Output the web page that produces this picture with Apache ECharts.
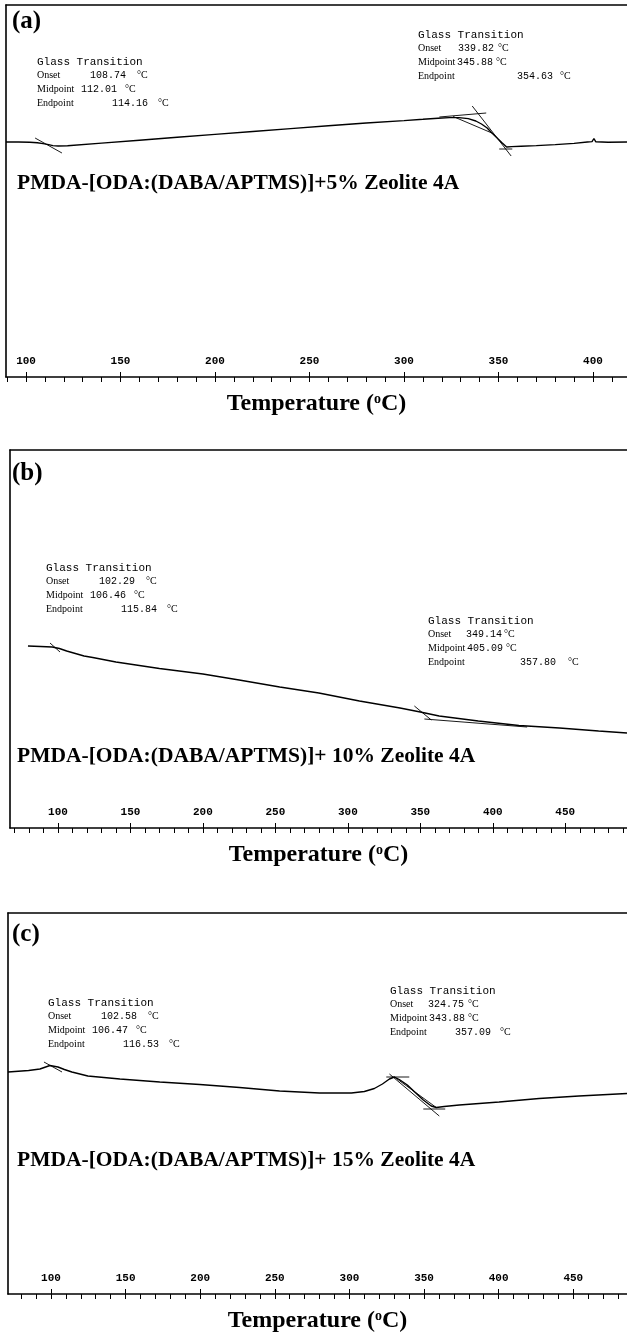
<!DOCTYPE html>
<html>
<head>
<meta charset="utf-8">
<title>DSC curves - PMDA-[ODA:(DABA/APTMS)] + Zeolite 4A</title>
<script src="https://cdn.jsdelivr.net/npm/echarts@6/dist/echarts.min.js"></script>
<style>
  html, body { margin: 0; padding: 0; background: #fff; }
  #dsc { width: 627px; height: 1335px; }
</style>
</head>
<body>
<div id="dsc"></div>
<script>
// ---- data (temperature in °C, heat flow in arb. units) ----
const tempA = [89.4, 96, 102, 106, 109, 112, 114.2, 117, 122, 140, 160, 180, 200, 220, 240, 260, 280, 300,
  310, 318, 324, 329, 334, 338, 341, 344, 346, 349, 352, 354.3, 357, 362, 370, 380, 390, 397, 399.5, 400.5, 401.5, 408, 418]
const heatA = [0.80, 0.80, 0.77, 0.72, 0.64, 0.54, 0.44, 0.40, 0.42, 0.69, 0.98, 1.27, 1.56, 1.85, 2.14, 2.43, 2.70, 2.94,
  3.07, 3.18, 3.24, 3.24, 3.14, 2.90, 2.60, 2.20, 1.80, 1.25, 0.70, 0.30, 0.34, 0.38, 0.44, 0.54, 0.66, 0.80, 0.84, 1.15, 0.82, 0.77, 0.80]

const tempB = [79.3, 88, 96, 101, 106, 112, 118, 124, 140, 170, 200, 225, 253, 280, 308, 336, 350, 363, 390, 418, 446, 473, 492.6]
const heatB = [5.4, 5.35, 5.3, 5.15, 4.9, 4.65, 4.4, 4.25, 3.8, 3.15, 2.6, 2.0, 1.3, 0.7, -0.1, -0.8, -1.2, -1.6, -2.1, -2.55, -2.8, -3.1, -3.3]

const tempC = [71.2, 85, 92.6, 99.3, 104.7, 109, 114, 124.7, 146.2, 172.9, 199.7, 226.4, 253.2, 279.9, 301.3, 310,
  316.7, 322.1, 326.8, 330.1, 333.4, 338.8, 344.1, 349.5, 354.8, 358.2, 363.5, 373.6, 400.3, 427.1, 453.8, 486]
const heatC = [2.8, 2.95, 3.1, 3.45, 3.3, 3.05, 2.8, 2.4, 2.1, 1.8, 1.55, 1.25, 0.9, 0.7, 0.7, 0.85,
  1.15, 1.6, 2.1, 2.3, 2.05, 1.5, 0.75, 0.0, -0.6, -0.75, -0.65, -0.5, -0.2, 0.15, 0.4, 0.65]

// tangent / construction lines drawn by the analysis software
const tangentsA = [
  [[104.8, 1.2], [119.0, -0.3]],
  [[318.7, 3.3], [343.5, 3.7]],
  [[336.1, 4.4], [356.7, -0.6]],
  [[350.4, 0.1], [357.3, 0.1]],
  [[326, 3.35], [346.5, 1.7]]
]
const tangentsB = [
  [[94.5, 5.7], [101.4, 4.8]],
  [[345.9, -0.6], [357.6, -2.0]],
  [[352.8, -1.9], [423.7, -2.7]]
]
const tangentsC = [
  [[95.3, 3.8], [107.4, 2.8]],
  [[324.7, 2.3], [340.1, 2.3]],
  [[326.8, 2.6], [360.2, -1.6]],
  [[349.5, -0.9], [364.2, -0.9]],
  [[330.1, 2.3], [358.2, -0.75]]
]
// "1" end markers
const endMarkA = [[119.5, 0.75], [362, 0.75]]
const endMarkB = [[123.4, 4.6], [423.7, -2.3]]
const endMarkC = [[124.7, 2.75], [356.5, -0.3]]

// tick labels
const labelsA = [100, 150, 200, 250, 300, 350, 400]
const labelsB = [100, 150, 200, 250, 300, 350, 400, 450]
const labelsC = [100, 150, 200, 250, 300, 350, 400, 450]

// glass transition readouts: onset, midpoint, endpoint
const tgA1 = ['108.74', '112.01', '114.16']
const tgA2 = ['339.82', '345.88', '354.63']
const tgB1 = ['102.29', '106.46', '115.84']
const tgB2 = ['349.14', '405.09', '357.80']
const tgC1 = ['102.58', '106.47', '116.53']
const tgC2 = ['324.75', '343.88', '357.09']

const tags = ['(a)', '(b)', '(c)']
const notes = [
  'PMDA-[ODA:(DABA/APTMS)]+5% Zeolite 4A',
  'PMDA-[ODA:(DABA/APTMS)]+ 10% Zeolite 4A',
  'PMDA-[ODA:(DABA/APTMS)]+ 15% Zeolite 4A'
]

// ---- layout ----
// ref: pixel row that the heat flow zero refers to (10 px per unit)
const panels = [
  { top: 5, left: 6, axisY: 377, ref: 150, xMin: 89.4, xMax: 418, tagY: 22, noteY: 183,
    temp: tempA, heat: heatA, tangents: tangentsA, marks: endMarkA, labels: labelsA,
    blocks: [
      { x: 37, y: 62, vals: tgA1, off: [[53, 100], [44, 88], [75, 121]] },
      { x: 418, y: 35, vals: tgA2, off: [[40, 80], [39, 78], [99, 142]] }
    ] },
  { top: 450, left: 10, axisY: 828, ref: 700, xMin: 66.9, xMax: 492.6, tagY: 474, noteY: 756,
    temp: tempB, heat: heatB, tangents: tangentsB, marks: endMarkB, labels: labelsB,
    blocks: [
      { x: 46, y: 568, vals: tgB1, off: [[53, 100], [44, 88], [75, 121]] },
      { x: 428, y: 621, vals: tgB2, off: [[38, 76], [39, 78], [92, 140]] }
    ] },
  { top: 913, left: 8, axisY: 1294, ref: 1100, xMin: 71.2, xMax: 486, tagY: 935, noteY: 1160,
    temp: tempC, heat: heatC, tangents: tangentsC, marks: endMarkC, labels: labelsC,
    blocks: [
      { x: 48, y: 1003, vals: tgC1, off: [[53, 100], [44, 88], [75, 121]] },
      { x: 390, y: 991, vals: tgC2, off: [[38, 78], [39, 78], [65, 110]] }
    ] }
]

const serif = '"Liberation Serif", "Times New Roman", serif'
const mono = '"Liberation Mono", "Courier New", monospace'
const frame = { color: '#000', width: 1.6 }

function txt(x, y, text, size, family, weight) {
  return {
    type: 'text', x: x, y: y, silent: true,
    style: { text: text, fontSize: size, fontFamily: family, fontWeight: weight || 'normal',
      fill: '#000', align: 'left', verticalAlign: 'middle' }
  }
}

const grids = [], xAxes = [], yAxes = [], series = [], graphics = []

panels.forEach((p, i) => {
  // panel box is open on the right: frame = left y axis line + top axis line + bottom axis
  grids.push({ left: p.left, top: p.top, right: 0, height: p.axisY - p.top })

  const minor = []
  for (let t = Math.ceil(p.xMin / 10) * 10; t <= p.xMax; t += 10) minor.push(t)

  // main axis: minor ticks below, labels inside
  xAxes.push({
    type: 'value', gridIndex: i, position: 'bottom', min: p.xMin, max: p.xMax,
    axisLine: { show: true, onZero: false, lineStyle: frame },
    axisTick: { show: true, customValues: minor, length: 5, inside: false, lineStyle: { color: '#000', width: 1 } },
    axisLabel: { show: true, customValues: p.labels, inside: true, margin: 10,
      fontFamily: mono, fontSize: 11, fontWeight: 'bold', color: '#000' },
    splitLine: { show: false },
    name: 'Temperature ({s|o}C)', nameLocation: 'middle', nameGap: 15,
    nameTextStyle: {
      fontFamily: serif, fontSize: 24, fontWeight: 'bold', color: '#000',
      rich: { s: { fontFamily: serif, fontSize: 14, fontWeight: 'bold', color: '#000', verticalAlign: 'top' } }
    }
  })
  // overlay axis: major ticks poking up at the labelled temperatures
  xAxes.push({
    type: 'value', gridIndex: i, position: 'bottom', min: p.xMin, max: p.xMax,
    axisLine: { show: false, onZero: false },
    axisTick: { show: true, customValues: p.labels, length: 5, inside: true, lineStyle: { color: '#000', width: 1 } },
    axisLabel: { show: false },
    splitLine: { show: false }
  })
  // top edge of the panel box
  xAxes.push({
    type: 'value', gridIndex: i, position: 'top', min: p.xMin, max: p.xMax,
    axisLine: { show: true, onZero: false, lineStyle: frame },
    axisTick: { show: false }, axisLabel: { show: false }, splitLine: { show: false }
  })
  yAxes.push({
    type: 'value', gridIndex: i, position: 'left',
    min: (p.ref - p.axisY) / 10, max: (p.ref - p.top) / 10,
    axisLine: { show: true, onZero: false, lineStyle: frame },
    axisTick: { show: false }, axisLabel: { show: false }, splitLine: { show: false }
  })

  series.push({
    type: 'line', xAxisIndex: 3 * i, yAxisIndex: i, silent: true, showSymbol: false,
    lineStyle: { color: '#000', width: 1.4 },
    data: p.temp.map((t, k) => [t, p.heat[k]])
  })
  p.tangents.forEach(seg => {
    series.push({
      type: 'line', xAxisIndex: 3 * i, yAxisIndex: i, silent: true, showSymbol: false,
      lineStyle: { color: '#000', width: 0.9 }, data: seg
    })
  })
  series.push({
    type: 'scatter', xAxisIndex: 3 * i, yAxisIndex: i, silent: true, symbol: 'none',
    data: p.marks,
    label: { show: true, formatter: '1', position: 'inside', fontFamily: mono, fontSize: 10, fontWeight: 'bold', color: '#000' }
  })

  graphics.push(txt(12, p.tagY, tags[i], 25, serif, 'bold'))
  graphics.push(txt(17, p.noteY, notes[i], 21.5, serif, 'bold'))

  const rows = ['Onset', 'Midpoint', 'Endpoint']
  p.blocks.forEach(b => {
    graphics.push(txt(b.x, b.y, 'Glass Transition', 11, mono))
    rows.forEach((r, k) => {
      const y = b.y + (k + 1) * 13.7
      graphics.push(txt(b.x, y, r, 10, serif))
      graphics.push(txt(b.x + b.off[k][0], y, b.vals[k], 10, mono))
      graphics.push(txt(b.x + b.off[k][1], y, '°C', 10, serif))
    })
  })
})

const chart = echarts.init(document.getElementById('dsc'))
chart.setOption({
  animation: false,
  backgroundColor: '#fff',
  grid: grids,
  xAxis: xAxes,
  yAxis: yAxes,
  series: series,
  graphic: graphics
})
</script>
</body>
</html>
